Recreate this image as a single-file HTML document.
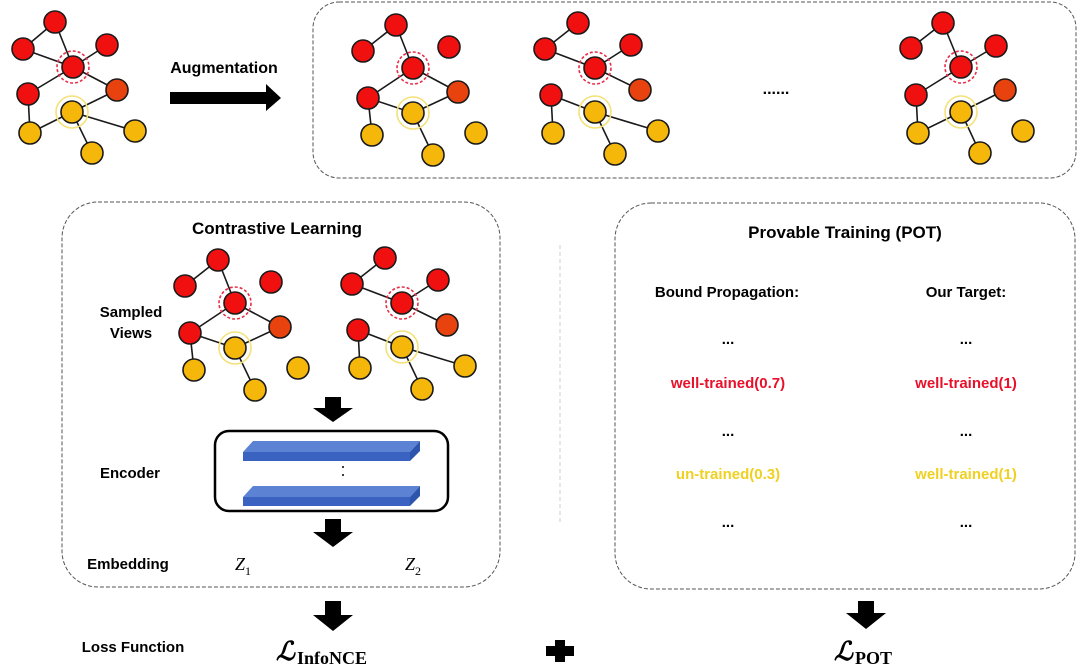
<!DOCTYPE html>
<html><head><meta charset="utf-8"><style>
html,body{margin:0;padding:0;background:#fff;}
svg{display:block;}
.b{font-family:"Liberation Sans",Arial,sans-serif;font-weight:bold;}
</style></head><body>
<svg width="1080" height="671" viewBox="0 0 1080 671" xmlns="http://www.w3.org/2000/svg">
<!-- boxes -->
<rect x="313" y="2" width="763" height="176" rx="26" fill="none" stroke="#555" stroke-width="1" stroke-dasharray="4,2"/>
<rect x="62" y="202" width="438" height="385" rx="36" fill="none" stroke="#555" stroke-width="1" stroke-dasharray="4,2"/>
<rect x="615" y="203" width="460" height="386" rx="36" fill="none" stroke="#555" stroke-width="1" stroke-dasharray="4,2"/>
<line x1="560" y1="245" x2="560" y2="522" stroke="#ccc" stroke-width="1" stroke-dasharray="4,3"/>

<!-- Graph 1 original -->
<g transform="translate(73,67)" stroke="#1a1a1a" stroke-width="1.6">
<line x1="-18" y1="-45" x2="-50" y2="-18"/><line x1="-18" y1="-45" x2="0" y2="0"/><line x1="-50" y1="-18" x2="0" y2="0"/><line x1="34" y1="-22" x2="0" y2="0"/><line x1="-45" y1="27" x2="0" y2="0"/><line x1="0" y1="0" x2="44" y2="23"/><line x1="44" y1="23" x2="-1" y2="45"/><line x1="-45" y1="27" x2="-43" y2="66"/><line x1="-43" y1="66" x2="-1" y2="45"/><line x1="-1" y1="45" x2="62" y2="64"/><line x1="-1" y1="45" x2="19" y2="86"/>
<circle cx="0" cy="0" r="16" fill="none" stroke="#e8304a" stroke-dasharray="3,2"/>
<circle cx="-1" cy="45" r="16" fill="none" stroke="#f3e27a"/>
<circle cx="-18" cy="-45" r="11" fill="#f01010"/><circle cx="-50" cy="-18" r="11" fill="#f01010"/><circle cx="34" cy="-22" r="11" fill="#f01010"/><circle cx="0" cy="0" r="11" fill="#f01010"/><circle cx="-45" cy="27" r="11" fill="#f01010"/><circle cx="44" cy="23" r="11" fill="#e8420f"/><circle cx="-1" cy="45" r="11" fill="#f4b70a"/><circle cx="-43" cy="66" r="11" fill="#f4b70a"/><circle cx="62" cy="64" r="11" fill="#f4b70a"/><circle cx="19" cy="86" r="11" fill="#f4b70a"/>
</g>

<!-- View1 -->
<g id="v1" transform="translate(413,68)" stroke="#1a1a1a" stroke-width="1.6">
<line x1="-17" y1="-43" x2="-50" y2="-17"/><line x1="-17" y1="-43" x2="0" y2="0"/><line x1="0" y1="0" x2="-45" y2="30"/><line x1="0" y1="0" x2="45" y2="24"/><line x1="-45" y1="30" x2="0" y2="45"/><line x1="45" y1="24" x2="0" y2="45"/><line x1="-45" y1="30" x2="-41" y2="67"/><line x1="0" y1="45" x2="20" y2="87"/>
<circle cx="0" cy="0" r="16" fill="none" stroke="#e8304a" stroke-dasharray="3,2"/>
<circle cx="0" cy="45" r="16" fill="none" stroke="#f3e27a"/>
<circle cx="-17" cy="-43" r="11" fill="#f01010"/><circle cx="-50" cy="-17" r="11" fill="#f01010"/><circle cx="36" cy="-21" r="11" fill="#f01010"/><circle cx="0" cy="0" r="11" fill="#f01010"/><circle cx="-45" cy="30" r="11" fill="#f01010"/><circle cx="45" cy="24" r="11" fill="#e8420f"/><circle cx="0" cy="45" r="11" fill="#f4b70a"/><circle cx="-41" cy="67" r="11" fill="#f4b70a"/><circle cx="63" cy="65" r="11" fill="#f4b70a"/><circle cx="20" cy="87" r="11" fill="#f4b70a"/>
</g>

<!-- View2 -->
<g id="v2" transform="translate(595,68)" stroke="#1a1a1a" stroke-width="1.6">
<line x1="-17" y1="-45" x2="-50" y2="-19"/><line x1="-50" y1="-19" x2="0" y2="0"/><line x1="0" y1="0" x2="36" y2="-23"/><line x1="0" y1="0" x2="45" y2="22"/><line x1="-44" y1="27" x2="0" y2="44"/><line x1="-44" y1="27" x2="-42" y2="65"/><line x1="0" y1="44" x2="63" y2="63"/><line x1="0" y1="44" x2="20" y2="86"/>
<circle cx="0" cy="0" r="16" fill="none" stroke="#e8304a" stroke-dasharray="3,2"/>
<circle cx="0" cy="44" r="16" fill="none" stroke="#f3e27a"/>
<circle cx="-17" cy="-45" r="11" fill="#f01010"/><circle cx="-50" cy="-19" r="11" fill="#f01010"/><circle cx="36" cy="-23" r="11" fill="#f01010"/><circle cx="0" cy="0" r="11" fill="#f01010"/><circle cx="-44" cy="27" r="11" fill="#f01010"/><circle cx="45" cy="22" r="11" fill="#e8420f"/><circle cx="0" cy="44" r="11" fill="#f4b70a"/><circle cx="-42" cy="65" r="11" fill="#f4b70a"/><circle cx="63" cy="63" r="11" fill="#f4b70a"/><circle cx="20" cy="86" r="11" fill="#f4b70a"/>
</g>

<!-- View4 -->
<g transform="translate(961,67)" stroke="#1a1a1a" stroke-width="1.6">
<line x1="-18" y1="-44" x2="-50" y2="-19"/><line x1="-18" y1="-44" x2="0" y2="0"/><line x1="35" y1="-21" x2="0" y2="0"/><line x1="0" y1="0" x2="-45" y2="28"/><line x1="44" y1="23" x2="0" y2="45"/><line x1="-45" y1="28" x2="-43" y2="66"/><line x1="-43" y1="66" x2="0" y2="45"/><line x1="0" y1="45" x2="19" y2="86"/>
<circle cx="0" cy="0" r="16" fill="none" stroke="#e8304a" stroke-dasharray="3,2"/>
<circle cx="0" cy="45" r="16" fill="none" stroke="#f3e27a"/>
<circle cx="-18" cy="-44" r="11" fill="#f01010"/><circle cx="-50" cy="-19" r="11" fill="#f01010"/><circle cx="35" cy="-21" r="11" fill="#f01010"/><circle cx="0" cy="0" r="11" fill="#f01010"/><circle cx="-45" cy="28" r="11" fill="#f01010"/><circle cx="44" cy="23" r="11" fill="#e8420f"/><circle cx="0" cy="45" r="11" fill="#f4b70a"/><circle cx="-43" cy="66" r="11" fill="#f4b70a"/><circle cx="62" cy="64" r="11" fill="#f4b70a"/><circle cx="19" cy="86" r="11" fill="#f4b70a"/>
</g>

<!-- CL views -->
<use href="#v1" transform="translate(-178,235)"/>
<use href="#v2" transform="translate(-193,235)"/>

<!-- Augmentation arrow -->
<polygon points="170,92 266,92 266,84 281,98 266,111 266,104 170,104" fill="#000"/>
<text x="224" y="73" class="b" font-size="16" text-anchor="middle">Augmentation</text>
<text x="776" y="94" class="b" font-size="16" text-anchor="middle">......</text>

<!-- CL text -->
<text x="277" y="234" class="b" font-size="17" text-anchor="middle">Contrastive Learning</text>
<text x="131" y="317" class="b" font-size="15" text-anchor="middle">Sampled</text>
<text x="131" y="338" class="b" font-size="15" text-anchor="middle">Views</text>
<text x="130" y="478" class="b" font-size="15" text-anchor="middle">Encoder</text>
<text x="128" y="569" class="b" font-size="15" text-anchor="middle">Embedding</text>
<text x="235" y="570" font-family="'Liberation Serif',serif" font-style="italic" font-size="18">Z<tspan font-size="12" dy="5" font-style="normal">1</tspan></text>
<text x="405" y="570" font-family="'Liberation Serif',serif" font-style="italic" font-size="18">Z<tspan font-size="12" dy="5" font-style="normal">2</tspan></text>
<text x="133" y="652" class="b" font-size="15" text-anchor="middle">Loss Function</text>

<!-- block arrows -->
<polygon points="325,397 341,397 341,408 353,408 333,422 313,408 325,408" fill="#000"/>
<polygon points="325,519 341,519 341,532 353,532 333,547 313,532 325,532" fill="#000"/>
<polygon points="325,601 341,601 341,615 353,615 333,631 313,615 325,615" fill="#000"/>
<polygon points="858,601 874,601 874,613 886,613 866,629 846,613 858,613" fill="#000"/>
<polygon points="555,640 565,640 565,646 574,646 574,656 565,656 565,662 555,662 555,656 546,656 546,646 555,646" fill="#000"/>

<!-- Encoder -->
<rect x="215" y="431" width="233" height="80" rx="14" fill="none" stroke="#000" stroke-width="2.5"/>
<polygon points="243,452 253,441 420,441 410,452" fill="#5b82d3"/>
<rect x="243" y="452" width="167" height="9" fill="#3a62c0"/>
<polygon points="410,452 420,441 420,451 410,461" fill="#2e55ad"/>
<polygon points="243,497 253,486 420,486 410,497" fill="#5b82d3"/>
<rect x="243" y="497" width="167" height="9" fill="#3a62c0"/>
<polygon points="410,497 420,486 420,496 410,506" fill="#2e55ad"/>
<circle cx="343" cy="467" r="1" fill="#000"/><circle cx="343" cy="475" r="1" fill="#000"/>

<!-- Losses -->
<text x="276" y="660" font-family="'DejaVu Serif',serif" font-style="italic" font-weight="bold" font-size="26">ℒ</text>
<text x="297" y="664" font-family="'Liberation Serif',serif" font-weight="bold" font-size="18">InfoNCE</text>
<text x="834" y="660" font-family="'DejaVu Serif',serif" font-style="italic" font-weight="bold" font-size="26">ℒ</text>
<text x="855" y="664" font-family="'Liberation Serif',serif" font-weight="bold" font-size="18">POT</text>

<!-- POT -->
<text x="845" y="238" class="b" font-size="17" text-anchor="middle">Provable Training (POT)</text>
<text x="727" y="297" class="b" font-size="15" text-anchor="middle">Bound Propagation:</text>
<text x="966" y="297" class="b" font-size="15" text-anchor="middle">Our Target:</text>
<text x="728" y="344" class="b" font-size="15" text-anchor="middle">...</text>
<text x="966" y="344" class="b" font-size="15" text-anchor="middle">...</text>
<text x="728" y="388" class="b" font-size="15" text-anchor="middle" fill="#e8102a">well-trained(0.7)</text>
<text x="966" y="388" class="b" font-size="15" text-anchor="middle" fill="#e8102a">well-trained(1)</text>
<text x="728" y="436" class="b" font-size="15" text-anchor="middle">...</text>
<text x="966" y="436" class="b" font-size="15" text-anchor="middle">...</text>
<text x="728" y="479" class="b" font-size="15" text-anchor="middle" fill="#f0d020">un-trained(0.3)</text>
<text x="966" y="479" class="b" font-size="15" text-anchor="middle" fill="#f0d020">well-trained(1)</text>
<text x="728" y="527" class="b" font-size="15" text-anchor="middle">...</text>
<text x="966" y="527" class="b" font-size="15" text-anchor="middle">...</text>
</svg>
</body></html>
